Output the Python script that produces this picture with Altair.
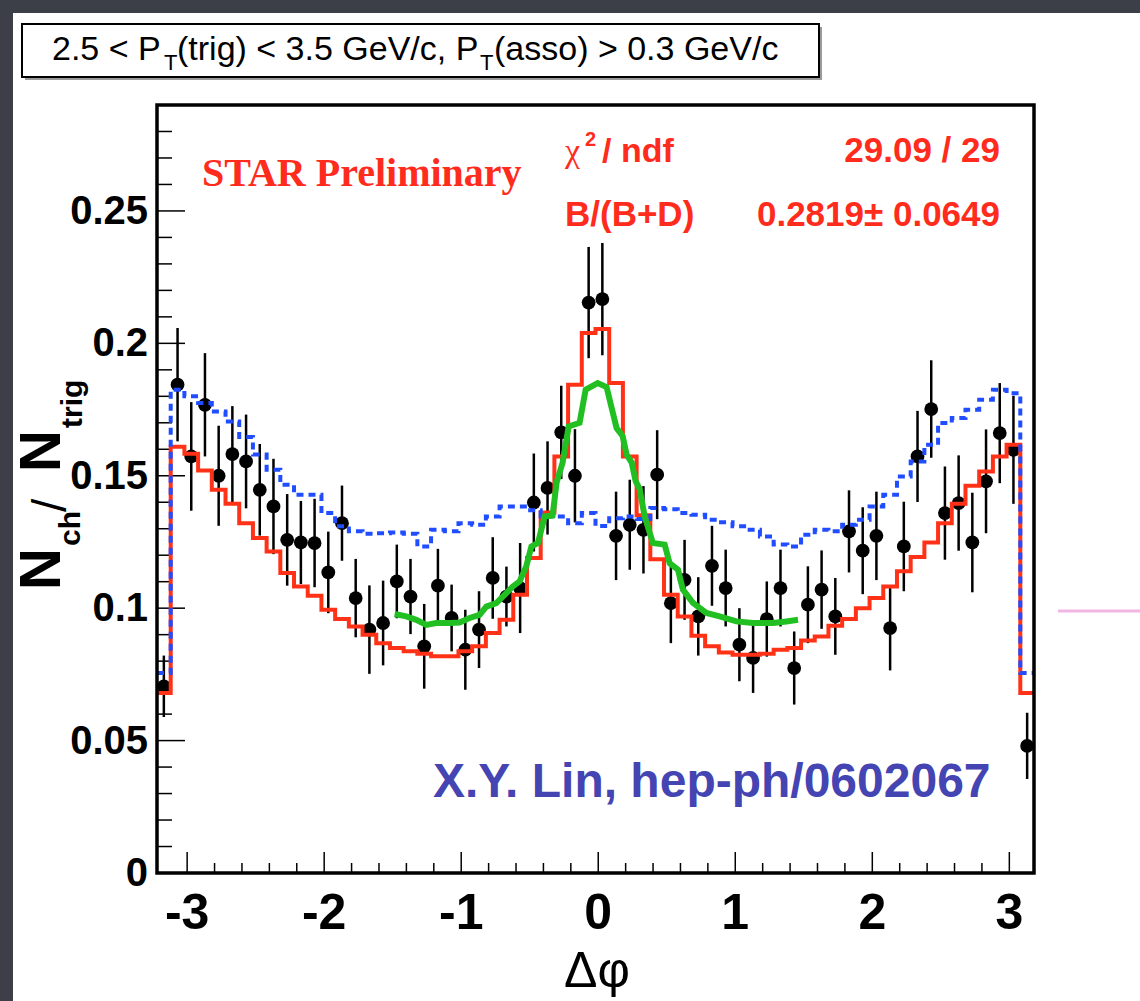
import altair as alt
import pandas as pd

# ---------------- data ----------------
bin_edges = [-3.22, -3.12, -3.02, -2.92, -2.82, -2.72, -2.62, -2.52, -2.42, -2.32,
             -2.22, -2.12, -2.02, -1.92, -1.82, -1.72, -1.62, -1.52, -1.42, -1.32,
             -1.22, -1.12, -1.02, -0.92, -0.82, -0.72, -0.62, -0.52, -0.42, -0.32,
             -0.22, -0.12, -0.02, 0.08, 0.18, 0.28, 0.38, 0.48, 0.58, 0.68,
             0.78, 0.88, 0.98, 1.08, 1.18, 1.28, 1.38, 1.48, 1.58, 1.68,
             1.78, 1.88, 1.98, 2.08, 2.18, 2.28, 2.38, 2.48, 2.58, 2.68,
             2.78, 2.88, 2.98, 3.08, 3.18]

data_y = [0.0705, 0.1844, 0.1573, 0.1768, 0.1500, 0.1582, 0.1554, 0.1447, 0.1384, 0.1258,
          0.1248, 0.1246, 0.1135, 0.1321, 0.1038, 0.0919, 0.0944, 0.1101, 0.1044, 0.0856,
          0.1085, 0.0963, 0.0843, 0.0919, 0.1114, 0.1044, 0.1076, 0.1399, 0.1454, 0.1664,
          0.1500, 0.2154, 0.2167, 0.1273, 0.1315, 0.1296, 0.1504, 0.1019, 0.1107, 0.0969,
          0.1160, 0.1076, 0.0862, 0.0812, 0.0959, 0.1076, 0.0774, 0.1013, 0.1070, 0.0969,
          0.1290, 0.1217, 0.1273, 0.0925, 0.1233, 0.1573, 0.1752, 0.1359, 0.1397, 0.1248,
          0.1479, 0.1661, 0.1598, 0.0480]

data_err = [0.0116, 0.0214, 0.0205, 0.0195, 0.0189, 0.0181, 0.0177, 0.0173, 0.0180, 0.0173,
            0.0157, 0.0167, 0.0154, 0.0142, 0.0148, 0.0167, 0.0160, 0.0139, 0.0142, 0.0160,
            0.0139, 0.0126, 0.0151, 0.0145, 0.0154, 0.0113, 0.0170, 0.0185, 0.0176, 0.0176,
            0.0176, 0.0210, 0.0212, 0.0167, 0.0170, 0.0165, 0.0168, 0.0151, 0.0151, 0.0148,
            0.0151, 0.0145, 0.0138, 0.0132, 0.0142, 0.0145, 0.0138, 0.0145, 0.0148, 0.0145,
            0.0155, 0.0164, 0.0167, 0.0160, 0.0169, 0.0172, 0.0184, 0.0176, 0.0180, 0.0188,
            0.0196, 0.0189, 0.0204, 0.0125]

red_fit = [0.0680, 0.1610, 0.1583, 0.1520, 0.1447, 0.1394, 0.1321, 0.1265, 0.1214, 0.1133,
           0.1082, 0.1047, 0.0994, 0.0959, 0.0931, 0.0900, 0.0868, 0.0850, 0.0837, 0.0828,
           0.0818, 0.0818, 0.0837, 0.0856, 0.0906, 0.0956, 0.1051, 0.1189, 0.1361, 0.1573,
           0.1844, 0.2039, 0.2054, 0.1850, 0.1573, 0.1351, 0.1185, 0.1051, 0.0969, 0.0896,
           0.0856, 0.0833, 0.0824, 0.0824, 0.0828, 0.0843, 0.0850, 0.0878, 0.0893, 0.0934,
           0.0959, 0.1000, 0.1038, 0.1082, 0.1139, 0.1193, 0.1248, 0.1321, 0.1394, 0.1462,
           0.1516, 0.1573, 0.1617, 0.0680]

blue_model = [0.0755, 0.1825, 0.1800, 0.1775, 0.1743, 0.1705, 0.1646, 0.1580, 0.1523, 0.1466,
              0.1428, 0.1428, 0.1359, 0.1309, 0.1290, 0.1281, 0.1283, 0.1286, 0.1281, 0.1233,
              0.1296, 0.1290, 0.1321, 0.1315, 0.1346, 0.1384, 0.1384, 0.1370, 0.1346, 0.1346,
              0.1321, 0.1359, 0.1310, 0.1340, 0.1346, 0.1337, 0.1378, 0.1374, 0.1359, 0.1353,
              0.1334, 0.1324, 0.1309, 0.1296, 0.1271, 0.1240, 0.1233, 0.1277, 0.1296, 0.1290,
              0.1315, 0.1334, 0.1384, 0.1428, 0.1497, 0.1554, 0.1617, 0.1699, 0.1718, 0.1749,
              0.1787, 0.1825, 0.1812, 0.0755]

green_x = [-1.486, -1.401, -1.328, -1.255, -1.182, -1.085, -1.012, -0.939, -0.866, -0.817,
           -0.744, -0.671, -0.623, -0.574, -0.525, -0.488, -0.440, -0.391, -0.333, -0.304,
           -0.260, -0.216, -0.136, -0.092, -0.004, 0.061, 0.096, 0.134, 0.178, 0.207,
           0.244, 0.273, 0.302, 0.339, 0.399, 0.485, 0.521, 0.582, 0.618, 0.691,
           0.789, 0.886, 1.008, 1.129, 1.275, 1.373, 1.458]
green_y = [0.0978, 0.0969, 0.0956, 0.0937, 0.0944, 0.0944, 0.0946, 0.0963, 0.0975, 0.1006,
           0.1019, 0.1057, 0.1082, 0.1101, 0.1158, 0.1233, 0.1246, 0.1346, 0.1350, 0.1474,
           0.1550, 0.1686, 0.1700, 0.1825, 0.1850, 0.1835, 0.1760, 0.1680, 0.1650, 0.1580,
           0.1550, 0.1480, 0.1450, 0.1346, 0.1246, 0.1240, 0.1170, 0.1145, 0.1070, 0.1020,
           0.0982, 0.0969, 0.0950, 0.0944, 0.0944, 0.0950, 0.0956]

x_major = [-3, -2, -1, 0, 1, 2, 3]
x_labels = ["-3", "-2", "-1", "0", "1", "2", "3"]
x_minor = [-2.8, -2.6, -2.4, -2.2, -1.8, -1.6, -1.4, -1.2, -0.8, -0.6, -0.4, -0.2,
           0.2, 0.4, 0.6, 0.8, 1.2, 1.4, 1.6, 1.8, 2.2, 2.4, 2.6, 2.8]
y_ticks = [0, 0.05, 0.1, 0.15, 0.2, 0.25]
y_labels = ["0", "0.05", "0.1", "0.15", "0.2", "0.25"]
y_major = [0.05, 0.1, 0.15, 0.2, 0.25]
y_minor = [0.01, 0.02, 0.03, 0.04, 0.06, 0.07, 0.08, 0.09, 0.11, 0.12, 0.13, 0.14,
           0.16, 0.17, 0.18, 0.19, 0.21, 0.22, 0.23, 0.24, 0.26, 0.27, 0.28]

# ---------------- layout ----------------
CW, CH = 1140, 1001
PL, PT = 157, 105
W, H = 877, 768
XDOM = [-3.22, 3.18]
YDOM = [0, 0.29]
RED = "#ff3217"
BLUE = "#1f4dff"
GREEN = "#22bf22"
TXTRED = "#ff2b1c"

centers = [round((a + b) / 2, 3) for a, b in zip(bin_edges[:-1], bin_edges[1:])]
pts = pd.DataFrame({"x": centers, "y": data_y,
                    "lo": [v - e for v, e in zip(data_y, data_err)],
                    "hi": [v + e for v, e in zip(data_y, data_err)]})
red_df = pd.DataFrame({"x": bin_edges, "y": red_fit + [red_fit[-1]]})
blue_df = pd.DataFrame({"x": bin_edges, "y": blue_model + [blue_model[-1]]})
green_df = pd.DataFrame({"x": green_x, "y": green_y})
one = pd.DataFrame({"a": [0]})

xs = alt.Scale(domain=XDOM, nice=False, zero=False)
ys = alt.Scale(domain=YDOM, nice=False, zero=False)


def X(field="x"):
    return alt.X(f"{field}:Q", scale=xs, axis=None, title=None)


def Y(field="y"):
    return alt.Y(f"{field}:Q", scale=ys, axis=None, title=None)


def box(x1, y1, x2, y2, **kw):
    return alt.Chart(one).mark_rect(**kw).encode(
        x=alt.value(x1 - PL), x2=alt.value(x2 - PL),
        y=alt.value(y1 - PT), y2=alt.value(y2 - PT))


def txt(s, x, y, size, color="black", weight="bold", font="Liberation Sans",
        align="left", baseline="alphabetic", angle=0):
    return alt.Chart(one).mark_text(
        text=s, fontSize=size, color=color, fontWeight=weight, font=font,
        align=align, baseline=baseline, angle=angle).encode(
        x=alt.value(x - PL), y=alt.value(y - PT))


layers = []
# white slide panel
layers.append(box(13, 13, CW + 5, CH + 5, fill="white"))
# pink slide line on the right
layers.append(alt.Chart(one).mark_rule(color="#f2b6e4", strokeWidth=3).encode(
    x=alt.value(1058 - PL), x2=alt.value(CW - PL), y=alt.value(611 - PT)))
# title box
layers.append(box(25, 27, 822, 80, fill="#9a9a9a"))
layers.append(box(22, 24, 819, 77, fill="white", stroke="black", strokeWidth=2))
layers.append(txt("2.5 < P", 52, 60, 34, weight="normal"))
layers.append(txt("T", 164, 70, 22, weight="normal"))
layers.append(txt("(trig) < 3.5 GeV/c, P", 177, 60, 34, weight="normal"))
layers.append(txt("T", 480, 70, 22, weight="normal"))
layers.append(txt("(asso) > 0.3 GeV/c", 494, 60, 34, weight="normal"))

# data: error bars and markers
layers.append(alt.Chart(pts).mark_rule(color="black", strokeWidth=2.5).encode(
    x=X(), y=Y("lo"), y2="hi:Q"))
layers.append(alt.Chart(pts).mark_point(shape="circle", filled=True, color="black",
                                        size=190, opacity=1).encode(x=X(), y=Y()))

# inward ticks
layers.append(alt.Chart(pd.DataFrame({"x": x_major})).mark_rule(color="black", strokeWidth=1.5).encode(
    x=X(), y=alt.value(H), y2=alt.value(H - 21)))
layers.append(alt.Chart(pd.DataFrame({"x": x_minor})).mark_rule(color="black", strokeWidth=1.5).encode(
    x=X(), y=alt.value(H), y2=alt.value(H - 10)))
layers.append(alt.Chart(pd.DataFrame({"y": y_major})).mark_rule(color="black", strokeWidth=1.5).encode(
    y=Y(), x=alt.value(0), x2=alt.value(28)))
layers.append(alt.Chart(pd.DataFrame({"y": y_minor})).mark_rule(color="black", strokeWidth=1.5).encode(
    y=Y(), x=alt.value(0), x2=alt.value(15)))

# tick labels
layers.append(alt.Chart(pd.DataFrame({"x": x_major, "lab": x_labels})).mark_text(
    fontSize=50, fontWeight="bold", font="Liberation Sans", color="black",
    align="center", baseline="alphabetic").encode(
    x=X(), y=alt.value(929 - PT), text="lab:N"))
layers.append(alt.Chart(pd.DataFrame({"y": y_ticks, "lab": y_labels})).mark_text(
    fontSize=40, fontWeight="bold", font="Liberation Sans", color="black",
    align="right", baseline="middle", dy=1).encode(
    y=Y(), x=alt.value(-9), text="lab:N"))

# curves
layers.append(alt.Chart(red_df).mark_line(color=RED, strokeWidth=4, interpolate="step-after").encode(
    x=X(), y=Y()))
layers.append(alt.Chart(blue_df).mark_line(color=BLUE, strokeWidth=4, strokeDash=[7, 5],
                                           interpolate="step-after").encode(x=X(), y=Y()))
layers.append(alt.Chart(green_df).mark_line(color=GREEN, strokeWidth=6).encode(x=X(), y=Y()))

# texts in the pad
layers.append(txt("STAR Preliminary", 202, 186, 40, color=TXTRED, font="Liberation Serif"))
layers.append(txt("\u03c7", 565, 162, 34, color=TXTRED, weight="normal", font="Liberation Serif"))
layers.append(txt("2", 585, 146, 20, color=TXTRED))
layers.append(txt("/ ndf", 602, 162, 34, color=TXTRED))
layers.append(txt("29.09 / 29", 1000, 162, 35, color=TXTRED, align="right"))
layers.append(txt("B/(B+D)", 565, 226, 35, color=TXTRED))
layers.append(txt("0.2819\u00b1 0.0649", 1000, 226, 35, color=TXTRED, align="right"))
layers.append(txt("X.Y. Lin, hep-ph/0602067", 433, 797, 48, color="#4444b2"))

# axis titles
layers.append(txt("\u0394\u03c6", 597, 987, 50, weight="normal", align="center"))
layers.append(txt("N", 60, 590, 58, angle=270))
layers.append(txt("ch", 80, 546, 30, angle=270))
layers.append(txt("/", 66, 512, 48, weight="normal", angle=270))
layers.append(txt("N", 60, 472, 58, angle=270))
layers.append(txt("trig", 82, 428, 30, angle=270))

# frame
layers.append(box(PL, PT, PL + W, PT + H, fillOpacity=0, stroke="black", strokeWidth=3.5))

chart = alt.layer(*layers).properties(
    width=W, height=H,
    autosize=alt.AutoSizeParams(type="none"),
    padding={"left": PL, "top": PT, "right": CW - PL - W, "bottom": CH - PT - H},
    background="#3c3f47",
).configure_view(stroke="transparent")

chart.save("out.html", embed_options={"renderer": "svg", "actions": False})
